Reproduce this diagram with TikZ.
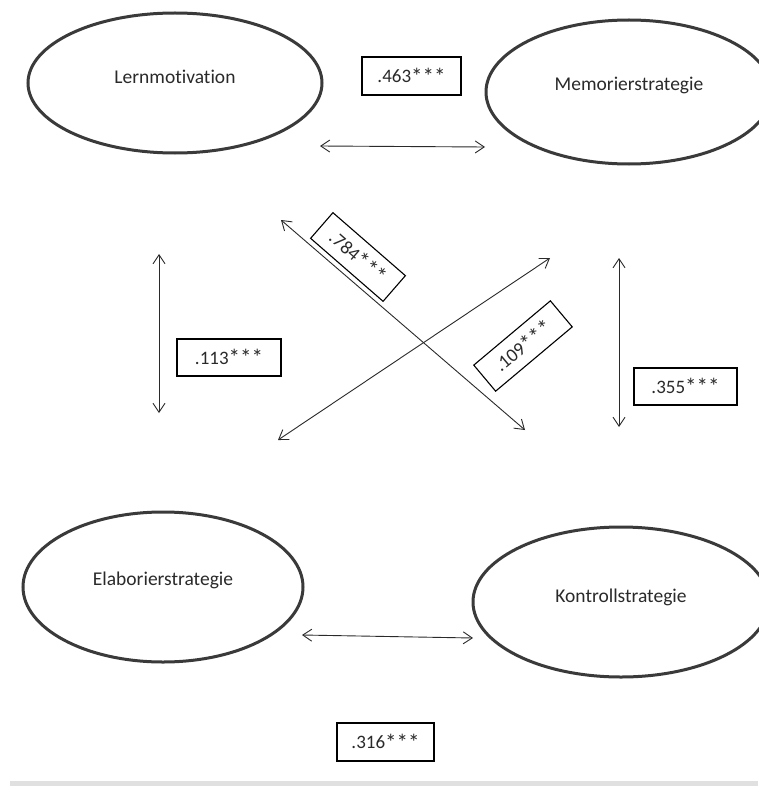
\documentclass[tikz,border=0pt]{standalone}
\usepackage{fontspec}
\setmainfont[Ligatures=NoCommon]{Carlito}
\usetikzlibrary{shapes.geometric,arrows.meta}
\definecolor{ovalgray}{HTML}{3A3A3A}
\definecolor{inkgray}{HTML}{2A2A2A}
\newcommand\threestars{{\fontsize{23}{22}\selectfont\raisebox{-1.5pt}{***}}}
\begin{document}
\begin{tikzpicture}[x=1pt,y=-1pt,
  oval/.style={ellipse, draw=ovalgray, line width=3pt, inner sep=0pt, outer sep=0pt},
  lab/.style={font=\fontsize{19.5}{22}\selectfont, text=inkgray, inner sep=0pt},
  val/.style={draw=black, line width=1.1pt, inner sep=0pt, font=\fontsize{19}{22}\selectfont, text=inkgray},
  link/.style={draw=inkgray, line width=0.9pt, {Straight Barb[length=9pt,width=12pt]}-{Straight Barb[length=9pt,width=12pt]}}
]
\useasboundingbox (0,0) rectangle (758,789);
\fill[white] (0,0) rectangle (758,789);
\fill[black!12] (10,781) rectangle (758,786);

% ellipses
\node[oval, minimum width=294pt, minimum height=140pt] (lern) at (175,83) {};
\node[oval, minimum width=286pt, minimum height=144pt] (memo) at (629,92) {};
\node[oval, minimum width=280pt, minimum height=150pt] (elab) at (163,587) {};
\node[oval, minimum width=296pt, minimum height=150pt] (kont) at (621,602) {};

\node[lab] (lernt) at ([yshift=6pt]lern.center) {Lernmotivation};
\node[lab] (memot) at ([yshift=7pt]memo.center) {Memorierstrategie};
\node[lab] (elabt) at ([yshift=7pt]elab.center) {Elaborierstrategie};
\node[lab] (kontt) at ([yshift=5pt]kont.center) {Kontrollstrategie};

% arrow end points
\coordinate (t1) at (320,146);
\coordinate (t2) at (485,147);
\coordinate (l1) at (159,254);
\coordinate (l2) at (159,413);
\coordinate (r1) at (619,258);
\coordinate (r2) at (619,427);
\coordinate (d1) at (281,220);
\coordinate (d2) at (525,430);
\coordinate (e1) at (550,258);
\coordinate (e2) at (278,440);
\coordinate (b1) at (302,635);
\coordinate (b2) at (473,638);

\draw[link] (t1) -- (t2);
\draw[link] (l1) -- (l2);
\draw[link] (r1) -- (r2);
\draw[link] (d1) -- (d2);
\draw[link] (e1) -- (e2);
\draw[link] (b1) -- (b2);

% value boxes
\node[val, minimum width=99pt, minimum height=38pt] (v463) at (411.5,76) {.463\threestars};
\node[val, minimum width=104pt, minimum height=37pt] (v113) at (229,357.5) {.113\threestars};
\node[val, minimum width=103pt, minimum height=37pt] (v355) at (685.5,386.5) {.355\threestars};
\node[val, minimum width=97pt, minimum height=38pt] (v316) at (385.5,742) {.316\threestars};
\node[val, minimum width=96pt, minimum height=34pt, rotate=-41] (v784) at (358,257) {.784\threestars};
\node[val, minimum width=100pt, minimum height=34pt, rotate=40] (v109) at (523,346) {.109\threestars};
\end{tikzpicture}
\end{document}
